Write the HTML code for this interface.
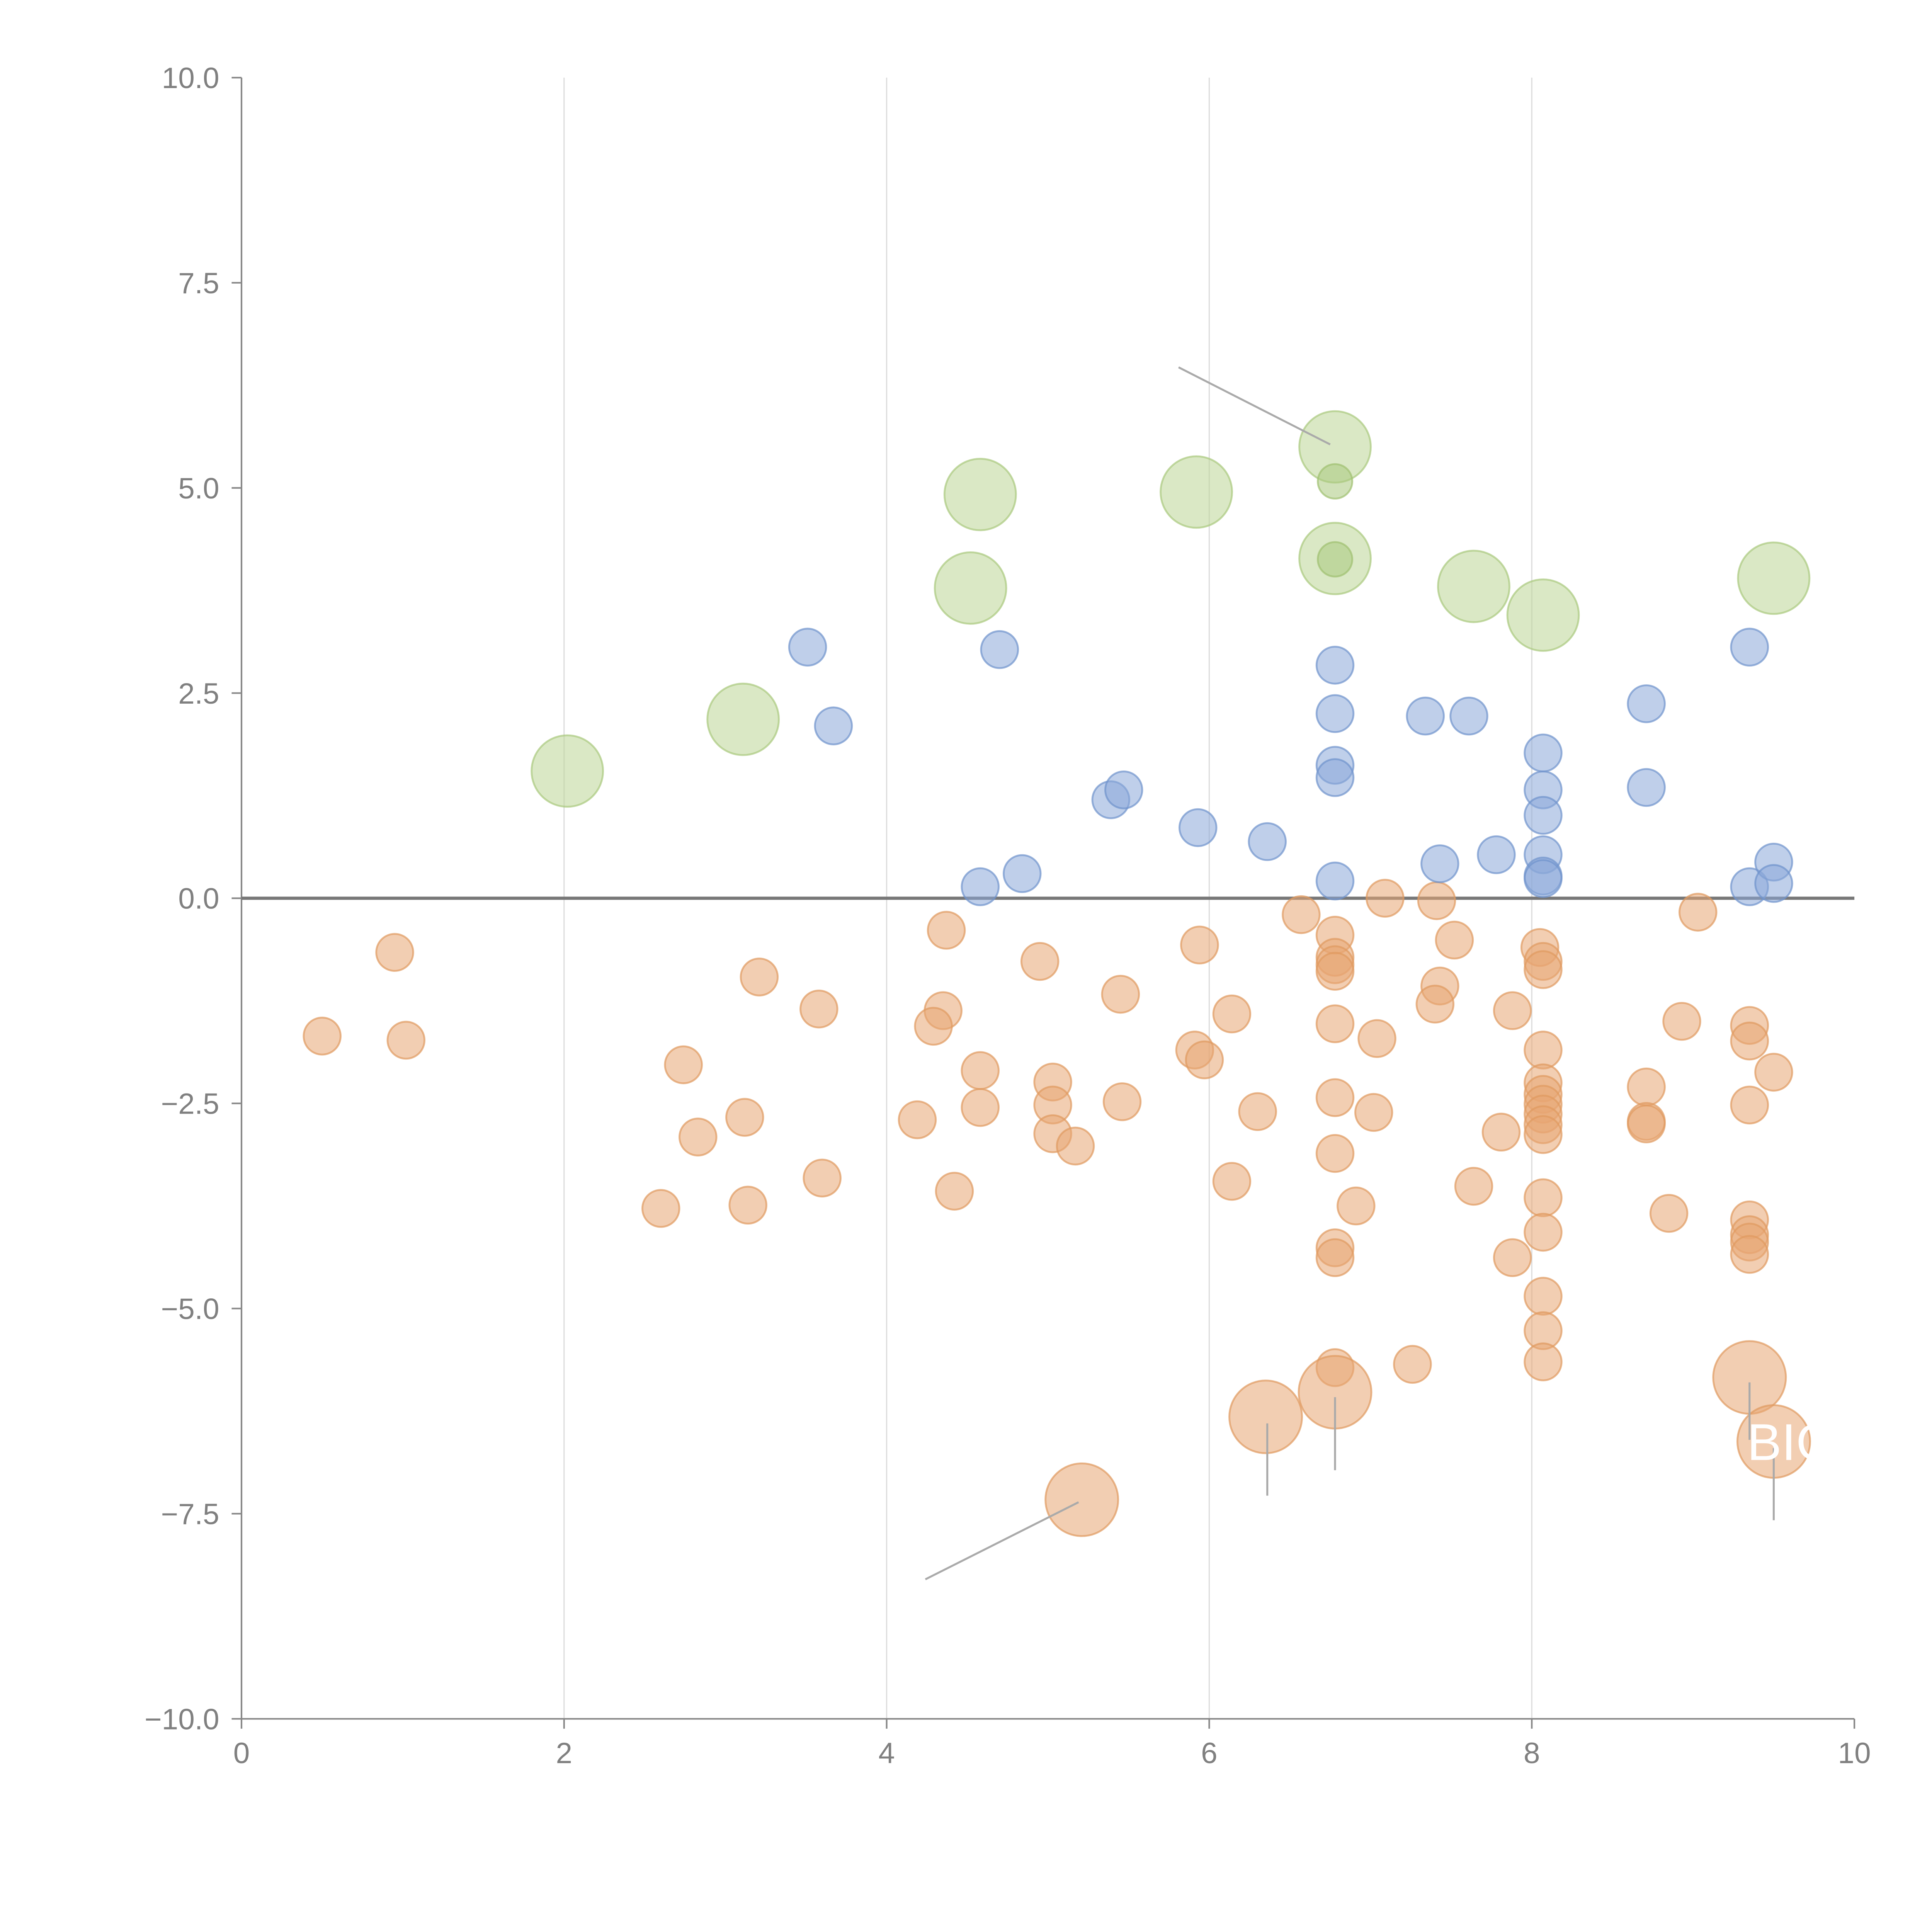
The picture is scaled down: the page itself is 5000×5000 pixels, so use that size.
<!DOCTYPE html>
<html><head><meta charset="utf-8"><style>
html,body{margin:0;padding:0;background:#fff;}
svg{display:block;}
text{font-family:"Liberation Sans",Arial,sans-serif;}
</style></head><body>
<svg id="chart" width="5000" height="5000" viewBox="0 0 1568 1568" xmlns="http://www.w3.org/2000/svg">
<defs><clipPath id="plotclip"><rect x="196" y="63" width="1309" height="1332"/></clipPath></defs>
<g id="grid"></g>
<g id="axes"></g>
<g id="marks" clip-path="url(#plotclip)"></g>
</svg>
<script>
const xTicks = [0, 2, 4, 6, 8, 10];
const yTicks = [10, 7.5, 5, 2.5, 0, -2.5, -5, -7.5, -10];
const gridX = [2, 4, 6, 8];
const orangeX = [0.95,0.50,1.02,3.21,2.74,2.83,2.60,3.12,3.14,3.58,3.60,4.37,4.35,4.29,4.58,4.58,4.19,4.42,4.95,5.03,5.03,5.03,5.17,5.45,5.46,5.94,5.91,5.97,6.14,6.30,6.14,6.57,6.78,6.78,6.78,6.78,6.78,6.78,6.78,6.78,6.78,6.78,7.09,7.04,7.02,6.91,7.26,7.41,7.43,7.40,7.52,7.88,7.81,7.64,7.88,8.05,8.07,8.07,8.07,8.07,8.07,8.07,8.07,8.07,8.07,8.07,8.07,8.07,8.07,8.07,8.71,8.71,8.71,8.85,8.93,9.03,9.35,9.35,9.35,9.50,9.35,9.35,9.35,9.35];
const orangeY = [-0.66,-1.68,-1.73,-0.96,-2.03,-2.91,-3.78,-2.67,-3.74,-1.35,-3.41,-0.39,-1.37,-1.56,-2.10,-2.55,-2.70,-3.57,-0.77,-2.24,-2.52,-2.87,-3.02,-1.17,-2.48,-0.57,-1.85,-1.97,-1.41,-2.60,-3.45,-0.20,-0.45,-0.72,-0.81,-0.89,-1.53,-2.43,-3.11,-4.26,-4.38,-5.72,0.00,-1.71,-2.61,-3.75,-5.68,-0.03,-1.07,-1.29,-0.51,-1.37,-2.85,-3.51,-4.38,-0.60,-0.77,-0.87,-1.85,-2.25,-2.39,-2.51,-2.63,-2.76,-2.88,-3.65,-4.07,-4.85,-5.27,-5.65,-2.30,-2.72,-2.75,-3.84,-1.50,-0.17,-1.55,-1.74,-2.52,-2.12,-3.92,-4.10,-4.19,-4.34];
const orangeBigX = [5.21,6.35,6.78,9.35,9.50];
const orangeBigY = [-7.33,-6.32,-6.02,-5.84,-6.62];
const blueX = [3.51,4.70,3.67,5.39,5.47,4.58,4.84,5.93,6.36,6.78,6.78,6.78,6.78,6.78,7.34,7.61,7.43,7.78,8.07,8.07,8.07,8.07,8.07,8.07,8.71,8.71,9.35,9.35,9.50,9.50];
const blueY = [3.06,3.03,2.10,1.20,1.32,0.14,0.30,0.86,0.69,2.84,2.25,1.62,1.47,0.21,2.22,2.22,0.42,0.53,1.77,1.32,1.01,0.53,0.27,0.24,2.37,1.35,3.06,0.14,0.44,0.18];
const greenBigX = [2.02,3.11,4.58,4.52,5.92,6.78,6.78,7.64,8.07,9.50];
const greenBigY = [1.55,2.18,4.92,3.78,4.95,5.50,4.14,3.80,3.45,3.90];
const greenX = [6.78,6.78];
const greenY = [5.08,4.13];
const leadX1 = [5.81,4.24,6.36,6.78,9.35,9.50];
const leadY1 = [6.47,-8.30,-6.40,-6.08,-5.90,-6.70];
const leadX2 = [6.75,5.19,6.36,6.78,9.35,9.50];
const leadY2 = [5.53,-7.36,-7.28,-6.97,-6.60,-7.58];

const NS = 'http://www.w3.org/2000/svg';
const X0 = 196, X1 = 1505, Y0 = 1395, Y1 = 63;
function sx(v){ return X0 + (v - 0) / 10 * (X1 - X0); }
function sy(v){ return Y0 - (v + 10) / 20 * (Y0 - Y1); }
function mk(tag, attrs, parent){ const e = document.createElementNS(NS, tag); for (const k in attrs) e.setAttribute(k, attrs[k]); parent.appendChild(e); return e; }
const grid = document.getElementById('grid'), axes = document.getElementById('axes'), marks = document.getElementById('marks');

gridX.forEach(v => {
  const l = mk('line', {x1: sx(v), x2: sx(v), y1: Y1, y2: Y0, stroke: '#dddddd', 'stroke-width': 1}, grid);
  
  
});
let a = mk('line', {x1: X0, x2: X0, y1: Y1, y2: Y0, stroke: '#888', 'stroke-width': 1.3}, axes);


a = mk('line', {x1: X0, x2: X1, y1: Y0, y2: Y0, stroke: '#888', 'stroke-width': 1.3}, axes);


xTicks.forEach(v => {
  const t = mk('line', {x1: sx(v), x2: sx(v), y1: Y0, y2: Y0 + 8, stroke: '#888', 'stroke-width': 1.3}, axes);
  
  
  const tx = mk('text', {x: sx(v), y: Y0 + 36, 'text-anchor': 'middle', 'font-size': 24, fill: '#808080'}, axes);
  tx.textContent = String(v);
  
  
});
yTicks.forEach(v => {
  const t = mk('line', {x1: X0 - 8, x2: X0, y1: sy(v), y2: sy(v), stroke: '#888', 'stroke-width': 1.3}, axes);
  
  
  const tx = mk('text', {x: X0 - 18, y: sy(v) + 8.5, 'text-anchor': 'end', 'font-size': 24, fill: '#808080'}, axes);
  tx.textContent = v.toFixed(1).replace('-', '\u2212');
  
  
});
a = mk('line', {x1: X0, x2: X1, y1: sy(0), y2: sy(0), stroke: '#777', 'stroke-width': 2.6}, axes);



function bubbles(xs, ys, r, fill, stroke, name){
  xs.forEach((v, i) => {
    const c = mk('circle', {cx: sx(v), cy: sy(ys[i]), r: r, fill: fill, 'fill-opacity': 0.55, stroke: stroke, 'stroke-opacity': 0.7, 'stroke-width': 1.5}, marks);
    
    
  });
}
bubbles(orangeX, orangeY, 15, '#e8a673', '#e09a60', 'orange-bubble');
bubbles(orangeBigX, orangeBigY, 29.5, '#e8a673', '#e09a60', 'orange-large-bubble');
bubbles(blueX, blueY, 15, '#8aa8d8', '#6f93cc', 'blue-bubble');
bubbles(greenBigX, greenBigY, 29, '#bcd596', '#a9c97e', 'green-large-bubble');
bubbles(greenX, greenY, 14, '#a9c97e', '#a0c070', 'green-bubble');

leadX1.forEach((v, i) => {
  const l = mk('line', {x1: sx(v), y1: sy(leadY1[i]), x2: sx(leadX2[i]), y2: sy(leadY2[i]), stroke: '#aaaaaa', 'stroke-width': 1.6}, marks);
  
  
});
const big = mk('text', {x: sx(9.35) - 2, y: sy(-6.62) + 15, 'font-size': 42, fill: '#ffffff'}, marks);
big.textContent = 'BIG';


</script>
</body></html>
